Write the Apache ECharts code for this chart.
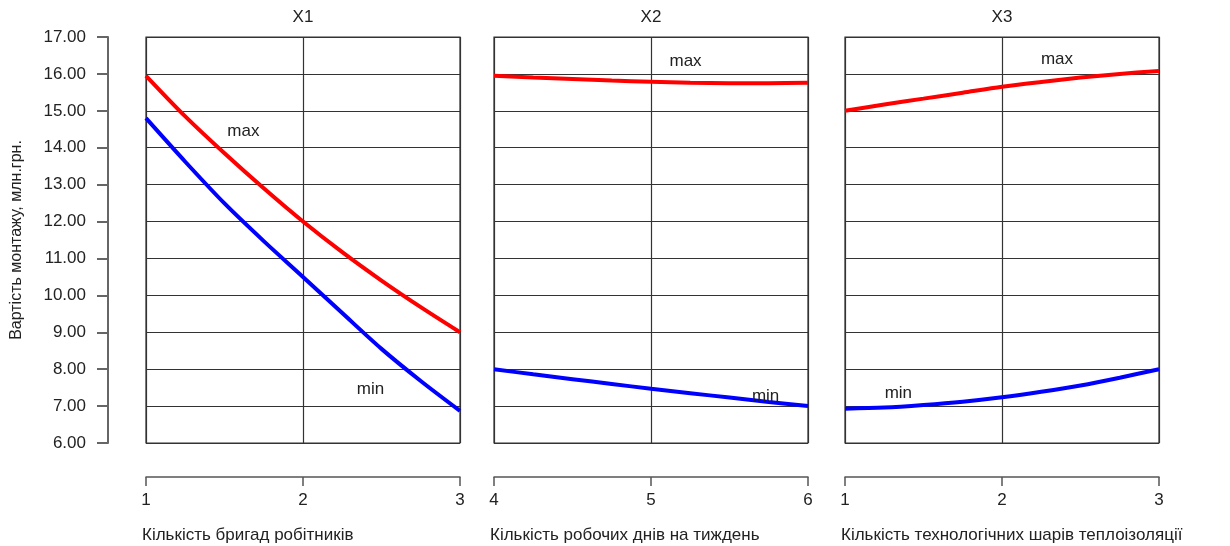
<!DOCTYPE html>
<html>
<head>
<meta charset="utf-8">
<script src="https://cdn.jsdelivr.net/npm/echarts@6/dist/echarts.min.js"></script>
<style>html,body{margin:0;padding:0;background:#fff;}#c{width:1230px;height:546px;}</style>
</head>
<body>
<div id="c"></div>
<script>
// ---- data ----
const panelTitles = ['X1', 'X2', 'X3'];
const axisNames = ['Кількість бригад робітників', 'Кількість робочих днів на тиждень', 'Кількість технологічних шарів теплоізоляції'];
const yName = 'Вартість монтажу, млн.грн.';
const yTicks = [6, 7, 8, 9, 10, 11, 12, 13, 14, 15, 16, 17];

const x1 = [1, 1.25, 1.5, 1.75, 2, 2.25, 2.5, 2.75, 3];
const x1Max = [15.95, 14.85, 13.85, 12.9, 12.0, 11.17, 10.4, 9.68, 9.0];
const x1Min = [14.8, 13.62, 12.49, 11.47, 10.5, 9.52, 8.55, 7.68, 6.87];

const x2 = [4, 4.25, 4.5, 4.75, 5, 5.25, 5.5, 5.75, 6];
const x2Max = [15.95, 15.9, 15.86, 15.82, 15.79, 15.76, 15.75, 15.75, 15.76];
const x2Min = [8.0, 7.86, 7.73, 7.6, 7.47, 7.35, 7.23, 7.11, 7.0];

const x3 = [1, 1.25, 1.5, 1.75, 2, 2.25, 2.5, 2.75, 3];
const x3Max = [15.0, 15.17, 15.33, 15.49, 15.65, 15.78, 15.9, 16.0, 16.08];
const x3Min = [6.93, 6.96, 7.03, 7.12, 7.24, 7.39, 7.56, 7.77, 8.0];

const xRanges = [[1, 3], [4, 6], [1, 3]];

// ---- chart ----
const FONT = 'Liberation Sans';
const chart = echarts.init(document.getElementById('c'), null, {renderer: 'canvas'});
const gridLeft = [146, 494, 845];
const gridW = 314;
const gridTop = 37, gridH = 406;

const pair = (xs, ys) => xs.map((x, i) => [x, ys[i]]);
const seriesData = [
  [pair(x1, x1Max), pair(x1, x1Min)],
  [pair(x2, x2Max), pair(x2, x2Min)],
  [pair(x3, x3Max), pair(x3, x3Min)]
];
const labelPos = [
  {max: [1.62, 14.45], min: [2.43, 7.46]},
  {max: [5.22, 16.35], min: [5.73, 7.27]},
  {max: [2.35, 16.4], min: [1.34, 7.35]}
];

const grids = [], xAxes = [], yAxes = [], series = [], graphics = [];
for (let p = 0; p < 3; p++) {
  grids.push({left: gridLeft[p], top: gridTop, width: gridW, height: gridH,
    show: true, borderColor: '#333', borderWidth: 1.2, backgroundColor: 'transparent'});
  xAxes.push({type: 'value', gridIndex: p, min: xRanges[p][0], max: xRanges[p][1], interval: 1,
    position: 'bottom', offset: 34,
    axisLine: {show: true, onZero: false, lineStyle: {color: '#555', width: 1.5}},
    axisTick: {show: true, inside: false, length: 9, lineStyle: {color: '#555', width: 1.5}},
    axisLabel: {show: true, margin: 15, color: '#222', fontFamily: FONT, fontSize: 17,
      formatter: v => String(v)},
    splitLine: {show: true, lineStyle: {color: '#333', width: 1.2}}
  });
  yAxes.push({type: 'value', gridIndex: p, min: yTicks[0], max: yTicks[yTicks.length - 1], interval: 1,
    offset: p === 0 ? 38 : 0,
    name: p === 0 ? yName : '', nameLocation: 'middle', nameGap: 83,
    nameTextStyle: {color: '#222', fontFamily: FONT, fontSize: 16},
    axisLine: {show: p === 0, lineStyle: {color: '#666', width: 2}},
    axisTick: {show: p === 0, inside: false, length: 11, lineStyle: {color: '#666', width: 2}},
    axisLabel: {show: p === 0, margin: 22, color: '#222', fontFamily: FONT, fontSize: 17,
      formatter: v => v.toFixed(2)},
    splitLine: {show: true, lineStyle: {color: '#333', width: 1.2}}
  });
  const mk = (name, data, color, coord) => ({
    type: 'line', name: name, xAxisIndex: p, yAxisIndex: p, data: data,
    smooth: 0.3,
    showSymbol: false, symbol: 'none',
    lineStyle: {color: color, width: 4}, itemStyle: {color: color},
    markPoint: {symbol: 'circle', symbolSize: 0, silent: true,
      label: {show: true, position: 'inside', formatter: name, color: '#222', fontFamily: FONT, fontSize: 17},
      data: [{coord: coord, value: name}]}
  });
  series.push(mk('max', seriesData[p][0], '#ff0000', labelPos[p].max));
  series.push(mk('min', seriesData[p][1], '#0000ff', labelPos[p].min));
  graphics.push({type: 'text', x: gridLeft[p] + gridW / 2, y: 17,
    style: {text: panelTitles[p], fill: '#222', font: '17px "' + FONT + '"', textAlign: 'center', textVerticalAlign: 'middle'}});
  graphics.push({type: 'text', x: gridLeft[p] - 4, y: 535,
    style: {text: axisNames[p], fill: '#222', font: '17px "' + FONT + '"', textAlign: 'left', textVerticalAlign: 'middle'}});
}

chart.setOption({
  animation: false,
  backgroundColor: '#ffffff',
  grid: grids, xAxis: xAxes, yAxis: yAxes, series: series,
  graphic: graphics
});
</script>
</body>
</html>
